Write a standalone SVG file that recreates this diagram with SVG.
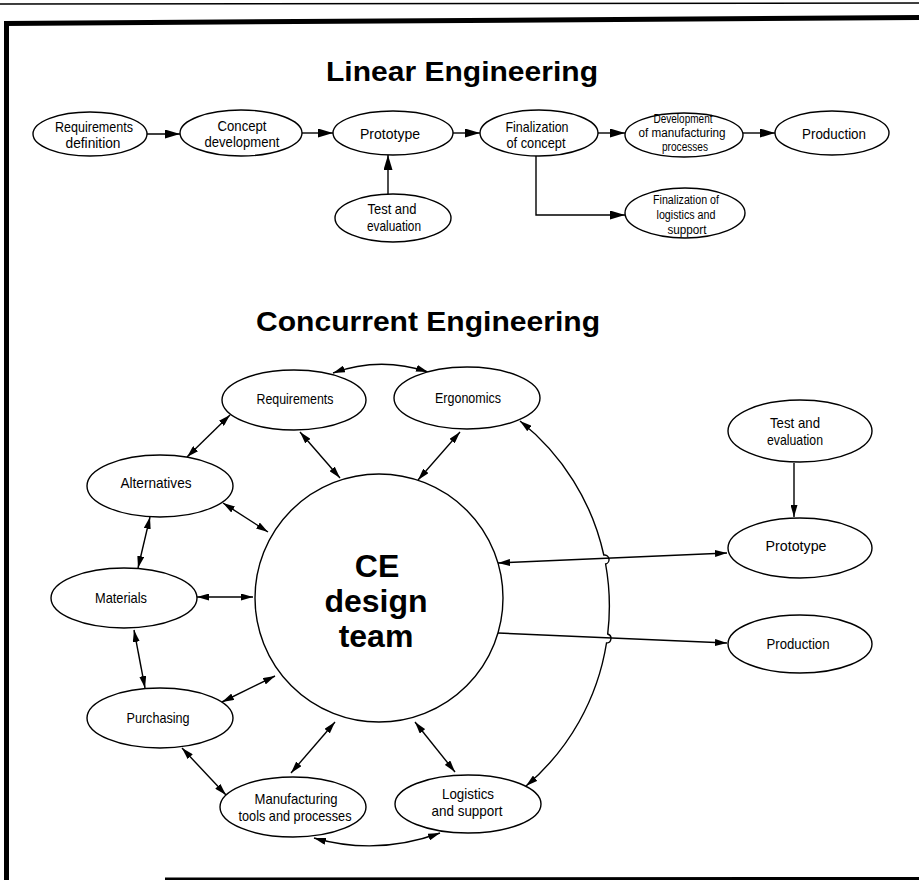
<svg xmlns="http://www.w3.org/2000/svg" width="919" height="880" viewBox="0 0 919 880">
<style>
.n ellipse,.n circle{fill:#fff;stroke:#000;stroke-width:1.4}
.c{fill:none;stroke:#000;stroke-width:1.4}
.t{font-family:"Liberation Sans",Arial,sans-serif;font-size:15px;text-anchor:middle;fill:#000}
.s{font-size:12px}
.h{font-family:"Liberation Sans",Arial,sans-serif;font-weight:bold;font-size:28px;fill:#000}
.ce{font-family:"Liberation Sans",Arial,sans-serif;font-weight:bold;font-size:32px;text-anchor:middle;fill:#000}
.a2{marker-start:url(#a);marker-end:url(#a)}
.a1{marker-end:url(#a)}
.L{marker-end:url(#b)}
.fr{stroke:#000;fill:none}
</style>
<defs>
<marker id="a" viewBox="0 0 12 7" refX="12" refY="3.5" markerWidth="12" markerHeight="7" markerUnits="userSpaceOnUse" orient="auto-start-reverse"><path d="M0,0L12,3.5L0,7z" fill="#000"/></marker>
<marker id="b" viewBox="0 0 15 9" refX="15" refY="4.5" markerWidth="15" markerHeight="9" markerUnits="userSpaceOnUse" orient="auto"><path d="M0,0L15,4.5L0,9z" fill="#000"/></marker>
</defs>
<rect width="919" height="880" fill="#fff"/>
<g id="frame">
<line class="fr" x1="0" y1="4" x2="919" y2="3" stroke="#888" stroke-width="1.5"/>
<line class="fr" x1="4" y1="23.5" x2="919" y2="17.5" stroke-width="5"/>
<line class="fr" x1="6.5" y1="21" x2="6.5" y2="880" stroke-width="5"/>
<line class="fr" x1="165" y1="879" x2="919" y2="878.5" stroke-width="3"/>
</g>
<g id="titles">
<text class="h" x="326" y="81" textLength="272" lengthAdjust="spacingAndGlyphs">Linear Engineering</text>
<text class="h" x="256" y="331" textLength="344" lengthAdjust="spacingAndGlyphs">Concurrent Engineering</text>
</g>
<g id="connectors">
<line class="c L" x1="147" y1="134" x2="180" y2="134"/>
<line class="c L" x1="302" y1="133" x2="333" y2="133"/>
<line class="c L" x1="453" y1="133" x2="480" y2="133"/>
<line class="c L" x1="598" y1="133" x2="625" y2="133"/>
<line class="c L" x1="743" y1="133" x2="775" y2="133"/>
<line class="c L" x1="388" y1="195" x2="388" y2="155"/>
<polyline class="c L" points="536,156 536,215 625,215"/>
<path class="c a2" d="M333,373 Q380,356 428,372"/>
<line class="c a2" x1="300" y1="432" x2="340" y2="478"/>
<line class="c a2" x1="460" y1="432" x2="418" y2="480"/>
<line class="c a2" x1="230" y1="415" x2="187" y2="457"/>
<line class="c a2" x1="223" y1="503" x2="268" y2="532"/>
<line class="c a2" x1="150" y1="517" x2="138" y2="568"/>
<line class="c a2" x1="197" y1="597" x2="253" y2="597"/>
<line class="c a2" x1="134" y1="630" x2="145" y2="688"/>
<line class="c a2" x1="222" y1="702" x2="275" y2="676"/>
<line class="c a2" x1="182" y1="748" x2="226" y2="795"/>
<line class="c a2" x1="335" y1="722" x2="291" y2="773"/>
<line class="c a2" x1="415" y1="722" x2="455" y2="772"/>
<path class="c a2" d="M314,838 Q377,856 440,833"/>
<path class="c a2" d="M520,421 A236,236 0 0,1 603.8,555 A4.6,4.6 0 0,1 605.6,564 A236,236 0 0,1 607.7,634 A4.6,4.6 0 0,1 606.5,643 A236,236 0 0,1 526,786"/>
<line class="c a2" x1="498" y1="563" x2="727" y2="553"/>
<line class="c a1" x1="498" y1="633" x2="727" y2="643"/>
<line class="c a1" x1="794" y1="463" x2="794" y2="517"/>
</g>
<g id="lin-req" class="n"><ellipse cx="90" cy="134" rx="57" ry="22"/><text class="t" x="94" y="132" textLength="78" lengthAdjust="spacingAndGlyphs">Requirements</text><text class="t" x="93" y="148" textLength="55" lengthAdjust="spacingAndGlyphs">definition</text></g>
<g id="lin-concept" class="n"><ellipse cx="241" cy="133" rx="61" ry="23"/><text class="t" x="242" y="131" textLength="49" lengthAdjust="spacingAndGlyphs">Concept</text><text class="t" x="242" y="147" textLength="75" lengthAdjust="spacingAndGlyphs">development</text></g>
<g id="lin-proto" class="n"><ellipse cx="393" cy="133" rx="60" ry="22"/><text class="t" x="390" y="139" textLength="60" lengthAdjust="spacingAndGlyphs">Prototype</text></g>
<g id="lin-final" class="n"><ellipse cx="539" cy="133" rx="59" ry="23"/><text class="t" x="537" y="132" textLength="63" lengthAdjust="spacingAndGlyphs">Finalization</text><text class="t" x="536" y="148" textLength="59" lengthAdjust="spacingAndGlyphs">of concept</text></g>
<g id="lin-dev" class="n"><ellipse cx="684" cy="135" rx="59" ry="22"/><text class="t s" x="683" y="123" textLength="59" lengthAdjust="spacingAndGlyphs">Development</text><text class="t s" x="682" y="137" textLength="87" lengthAdjust="spacingAndGlyphs">of manufacturing</text><text class="t s" x="685" y="151" textLength="46" lengthAdjust="spacingAndGlyphs">processes</text></g>
<g id="lin-prod" class="n"><ellipse cx="832" cy="133" rx="57" ry="22"/><text class="t" x="834" y="139" textLength="64" lengthAdjust="spacingAndGlyphs">Production</text></g>
<g id="lin-test" class="n"><ellipse cx="393" cy="218" rx="58" ry="24"/><text class="t" x="392" y="214" textLength="49" lengthAdjust="spacingAndGlyphs">Test and</text><text class="t" x="394" y="231" textLength="54" lengthAdjust="spacingAndGlyphs">evaluation</text></g>
<g id="lin-logist" class="n"><ellipse cx="685" cy="213" rx="60" ry="25"/><text class="t s" x="686" y="204" textLength="66" lengthAdjust="spacingAndGlyphs">Finalization of</text><text class="t s" x="686" y="219" textLength="59" lengthAdjust="spacingAndGlyphs">logistics and</text><text class="t s" x="687" y="234" textLength="39" lengthAdjust="spacingAndGlyphs">support</text></g>
<g id="ce-team" class="n"><circle cx="379" cy="598" r="124"/><text class="ce" x="377" y="577">CE</text><text class="ce" x="376" y="612">design</text><text class="ce" x="376" y="647">team</text></g>
<g id="ce-req" class="n"><ellipse cx="294" cy="400" rx="72" ry="30"/><text class="t" x="295" y="404" textLength="77" lengthAdjust="spacingAndGlyphs">Requirements</text></g>
<g id="ce-erg" class="n"><ellipse cx="467" cy="398" rx="73" ry="31"/><text class="t" x="468" y="403" textLength="66" lengthAdjust="spacingAndGlyphs">Ergonomics</text></g>
<g id="ce-alt" class="n"><ellipse cx="160" cy="486" rx="73" ry="31"/><text class="t" x="156" y="488" textLength="71" lengthAdjust="spacingAndGlyphs">Alternatives</text></g>
<g id="ce-mat" class="n"><ellipse cx="124" cy="598" rx="73" ry="30"/><text class="t" x="121" y="603" textLength="52" lengthAdjust="spacingAndGlyphs">Materials</text></g>
<g id="ce-pur" class="n"><ellipse cx="160" cy="718" rx="73" ry="30"/><text class="t" x="158" y="723" textLength="63" lengthAdjust="spacingAndGlyphs">Purchasing</text></g>
<g id="ce-man" class="n"><ellipse cx="293" cy="807" rx="73" ry="30"/><text class="t" x="296" y="804" textLength="83" lengthAdjust="spacingAndGlyphs">Manufacturing</text><text class="t" x="295" y="821" textLength="113" lengthAdjust="spacingAndGlyphs">tools and processes</text></g>
<g id="ce-log" class="n"><ellipse cx="468" cy="804" rx="73" ry="29"/><text class="t" x="468" y="799" textLength="52" lengthAdjust="spacingAndGlyphs">Logistics</text><text class="t" x="467" y="816" textLength="71" lengthAdjust="spacingAndGlyphs">and support</text></g>
<g id="ce-test" class="n"><ellipse cx="800" cy="431" rx="72" ry="31"/><text class="t" x="795" y="428" textLength="50" lengthAdjust="spacingAndGlyphs">Test and</text><text class="t" x="795" y="445" textLength="56" lengthAdjust="spacingAndGlyphs">evaluation</text></g>
<g id="ce-proto" class="n"><ellipse cx="800" cy="548" rx="72" ry="30"/><text class="t" x="796" y="551" textLength="61" lengthAdjust="spacingAndGlyphs">Prototype</text></g>
<g id="ce-prod" class="n"><ellipse cx="800" cy="644" rx="72" ry="29"/><text class="t" x="798" y="649" textLength="63" lengthAdjust="spacingAndGlyphs">Production</text></g>
</svg>
